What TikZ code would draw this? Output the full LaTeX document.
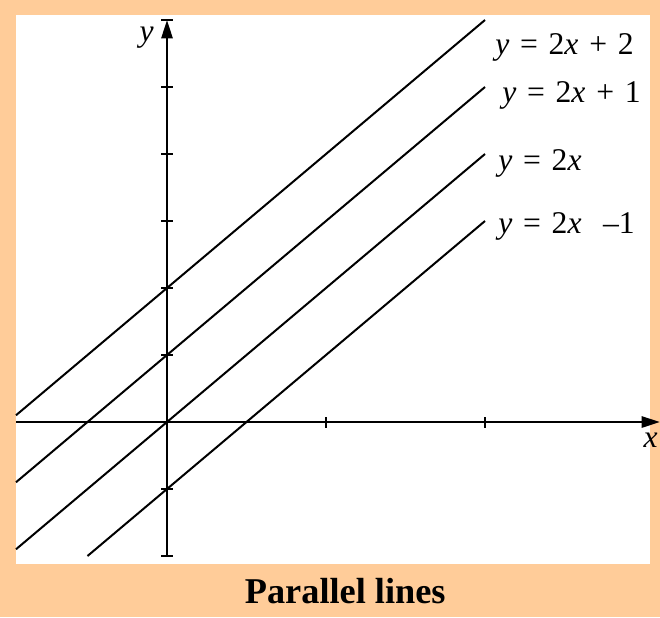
\documentclass[tikz,border=0pt]{standalone}
\usepackage{fontspec}
\setmainfont{Liberation Serif}
\definecolor{sheetPeach}{HTML}{FFCC99}
\usetikzlibrary{arrows.meta, positioning}
\newcommand{\eqgap}{\hspace{0.34em}}

\begin{document}
\begin{tikzpicture}[
    x=4.77cm, y=2.01cm,
    axis/.style={line width=2.4pt, -{Triangle[length=0.55cm, width=0.33cm]}},
    tickmark/.style={line width=1.6pt},
    graph/.style={line width=1.7pt},
    eqn/.style={anchor=base west, inner sep=0pt, font=\fontsize{27}{31}\selectfont},
    axlabel/.style={inner sep=0pt, font=\fontsize{27}{31}\selectfont\itshape},
    caption/.style={anchor=base, inner sep=0pt, font=\fontsize{31}{36}\selectfont\bfseries},
  ]
    \fill[sheetPeach] (-1.0503,-2.9104) rectangle (3.1006,6.2985);
    \fill[white] (-0.9497,-2.1194) rectangle (3.0377,6.0746);

    \draw[axis] (-0.9497,0) -- (3.1006,0);
    \draw[axis] (0,-2) -- (0,6);
    \foreach \k in {-2,-1,1,2,...,6}
      \draw[tickmark] (-0.035,\k) -- (0.035,\k);
    \foreach \k in {1,2}
      \draw[tickmark] (\k,-0.082) -- (\k,0.082);

    \draw[graph] (-0.9497,0.1006) -- (2,6);
    \draw[graph] (-0.9497,-0.8994) -- (2,5);
    \draw[graph] (-0.9497,-1.8994) -- (2,4);
    \draw[graph] (-0.5,-2) -- (2,3);

    \node[eqn] (eqTwo) at (2.063,5.478) {\textit{y}\eqgap=\eqgap2\textit{x}\eqgap+\eqgap2};
    \node[eqn] (eqOne) at (2.107,4.776) {\textit{y}\eqgap=\eqgap2\textit{x}\eqgap+\eqgap1};
    \node[eqn] (eqZero) at (2.082,3.76) {\textit{y}\eqgap=\eqgap2\textit{x}};
    \node[eqn] (eqMinus) at (2.082,2.82) {\textit{y}\eqgap=\eqgap2\textit{x}\eqgap\eqgap–1};

    \node[axlabel] (ylab) at (-0.128,5.74) {y};
    \node[axlabel] (xlab) at (3.042,-0.269) {x};

    \node[caption] (title) at (1.121,-2.716) {Parallel lines};

    \pgfresetboundingbox
    \useasboundingbox (-1.0503,-2.9104) rectangle (3.1006,6.2985);
  \end{tikzpicture}
\end{document}
